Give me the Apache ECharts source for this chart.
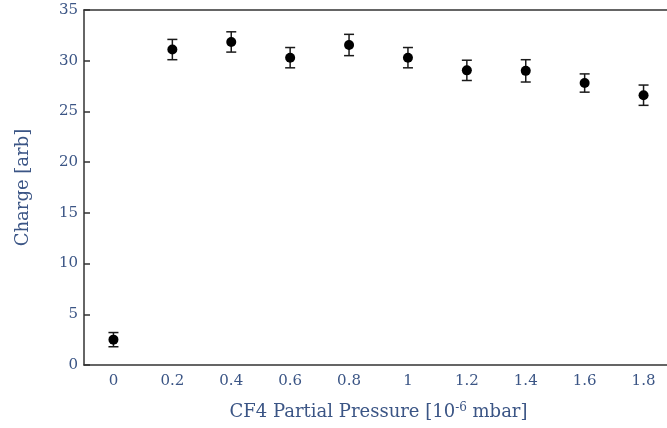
<html>
<head>
    <meta charset="UTF-8">
    <title>CF4 Charge</title>
    <script src="https://cdn.jsdelivr.net/npm/echarts@6/dist/echarts.min.js"></script>
    <style>
        body { margin: 0; background: #fff; }
    </style>
</head>

<body>
    <div id="container" style="width: 667px;height:428px;"></div>
</body>

<script>
    // pressure values (10^-6 mbar), shown as axis categories
    var pressures = ['0', '0.2', '0.4', '0.6', '0.8', '1', '1.2', '1.4', '1.6', '1.8'];
    // charge measured at each pressure
    var charges = [2.5, 31.1, 31.85, 30.3, 31.55, 30.3, 29.05, 29.0, 27.8, 26.6];
    // error bar half widths
    var errors = [0.7, 1.0, 1.0, 1.0, 1.05, 1.0, 1.0, 1.1, 0.9, 1.0];
    var yTicks = [0, 35, 5]; // min, max, step

    var txtColor = '#3b5585';
    var lineColor = '#333';
    var font = 'DejaVu Serif';

    var points = [];
    var bars = [];
    for (var i = 0; i < pressures.length; i++) {
        points.push([i, charges[i]]);
        bars.push([i, charges[i] - errors[i], charges[i] + errors[i]]);
    }

    var mycharts = echarts.init(document.getElementById('container'));

    // 误差棒: vertical line with caps
    function renderErr(params, api) {
        var lo = api.coord([api.value(0), api.value(1)]);
        var hi = api.coord([api.value(0), api.value(2)]);
        var w = 5;
        var style = { stroke: '#1a1a1a', lineWidth: 1.5 };
        return {
            type: 'group',
            children: [
                { type: 'line', shape: { x1: lo[0], y1: lo[1], x2: hi[0], y2: hi[1] }, style: style },
                { type: 'line', shape: { x1: lo[0] - w, y1: lo[1], x2: lo[0] + w, y2: lo[1] }, style: style },
                { type: 'line', shape: { x1: hi[0] - w, y1: hi[1], x2: hi[0] + w, y2: hi[1] }, style: style }
            ]
        };
    }

    var option = {
        animation: false,
        grid: { left: 84, top: 10, bottom: 63, right: -6, outerBoundsMode: 'none', containLabel: false },
        xAxis: [{
            type: 'category',
            data: pressures,
            boundaryGap: true,
            position: 'bottom',
            name: '{n|CF4 Partial Pressure [10}{s|-6}{n| mbar]}',
            nameLocation: 'middle',
            nameGap: 37,
            nameTextStyle: {
                rich: {
                    n: { fontFamily: font, fontSize: 18, color: txtColor },
                    s: { fontFamily: font, fontSize: 12, color: txtColor, verticalAlign: 'top', padding: [0, 0, 8, 0] }
                }
            },
            axisLine: { lineStyle: { color: lineColor, width: 1.5 } },
            axisTick: { inside: true, alignWithLabel: true, length: 6, lineStyle: { color: lineColor, width: 1.5 } },
            axisLabel: { fontFamily: font, fontSize: 15, color: txtColor, margin: 9 },
            splitLine: { show: false }
        }, {
            type: 'category',
            data: pressures,
            boundaryGap: true,
            position: 'top',
            axisLine: { lineStyle: { color: lineColor, width: 1.5 } },
            axisTick: { inside: true, alignWithLabel: true, length: 6, lineStyle: { color: lineColor, width: 1.5 } },
            axisLabel: { show: false },
            splitLine: { show: false }
        }],
        yAxis: {
            type: 'value',
            min: yTicks[0],
            max: yTicks[1],
            interval: yTicks[2],
            name: 'Charge [arb]',
            nameLocation: 'middle',
            nameGap: 52,
            nameTextStyle: { fontFamily: font, fontSize: 18, color: txtColor },
            axisLine: { show: true, lineStyle: { color: lineColor, width: 1.5 } },
            axisTick: { show: true, inside: true, length: 6, lineStyle: { color: lineColor, width: 1.5 } },
            axisLabel: { fontFamily: font, fontSize: 15, color: txtColor, margin: 6 },
            splitLine: { show: false }
        },
        series: [{
            type: 'custom',
            renderItem: renderErr,
            data: bars,
            z: 2
        }, {
            type: 'scatter',
            data: points,
            symbol: 'circle',
            symbolSize: 10,
            itemStyle: { color: '#000', opacity: 1 },
            z: 3
        }]
    };
    mycharts.setOption(option);
</script>
</html>
